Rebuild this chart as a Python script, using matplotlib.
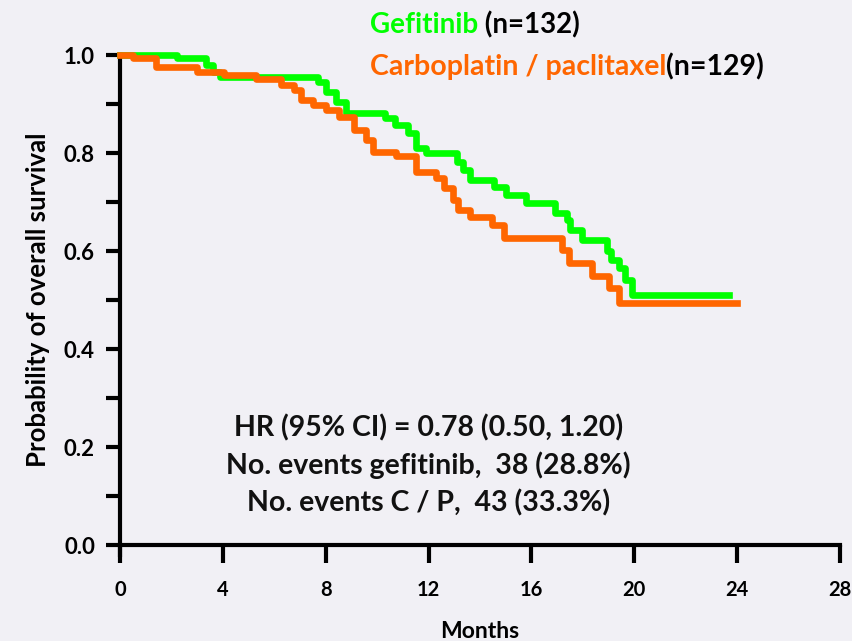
import matplotlib
matplotlib.use("Agg")
import matplotlib.pyplot as plt
from matplotlib.ticker import MultipleLocator

# ---- data ----
gef_t = [0, 2.2, 3.35, 3.6, 3.9, 7.7, 8.0, 8.4, 8.8, 10.3, 10.7, 11.2, 11.5, 11.9,
         13.1, 13.35, 13.6, 14.55, 15.0, 15.8, 16.9, 17.4, 17.5, 17.95, 18.95,
         19.1, 19.4, 19.65, 19.9, 23.7]
gef_s = [1.0, 0.993, 0.980, 0.966, 0.956, 0.945, 0.925, 0.905, 0.882, 0.871, 0.857,
         0.841, 0.810, 0.800, 0.782, 0.765, 0.745, 0.731, 0.714, 0.697, 0.678, 0.663,
         0.643, 0.622, 0.599, 0.582, 0.565, 0.541, 0.510, 0.510]

cp_t = [0, 0.5, 1.4, 3.0, 4.05, 5.3, 6.25, 6.75, 7.05, 7.5, 8.0, 8.5, 9.1, 9.55,
        9.85, 10.75, 11.5, 12.3, 12.6, 12.95, 13.15, 13.6, 14.45, 14.95, 17.2,
        17.45, 18.35, 19.0, 19.4, 24.0]
cp_s = [1.0, 0.993, 0.976, 0.966, 0.959, 0.952, 0.939, 0.929, 0.908, 0.898, 0.888,
        0.874, 0.847, 0.827, 0.803, 0.793, 0.762, 0.748, 0.728, 0.704, 0.684, 0.670,
        0.653, 0.626, 0.602, 0.575, 0.548, 0.524, 0.493, 0.493]

x_ticks = [0, 4, 8, 12, 16, 20, 24, 28]
y_ticks = [0.0, 0.2, 0.4, 0.6, 0.8, 1.0]

GREEN = "#00ff00"
ORANGE = "#ff6600"
BG = "#f1f0f5"

plt.rcParams["font.family"] = ["Lato", "DejaVu Sans"]
plt.rcParams["font.weight"] = "bold"

fig = plt.figure(figsize=(8.52, 6.41), dpi=100, facecolor=BG)
ax = fig.add_axes([120 / 852, 96 / 641, 720 / 852, 490 / 641])
ax.set_facecolor(BG)

ax.step(cp_t, cp_s, where="post", color=ORANGE, lw=4.8, clip_on=False, zorder=3)
ax.step(gef_t, gef_s, where="post", color=GREEN, lw=4.8, clip_on=False, zorder=2)

ax.set_xlim(0, 28)
ax.set_ylim(0, 1.0)
for s in ["top", "right"]:
    ax.spines[s].set_visible(False)
for s in ["left", "bottom"]:
    ax.spines[s].set_linewidth(3)
ax.spines["left"].set_bounds(-0.02, 1.0)

ax.set_xticks(x_ticks)
ax.set_yticks(y_ticks)
ax.set_yticklabels([f"{v:.1f}" for v in y_ticks])
ax.yaxis.set_minor_locator(MultipleLocator(0.1))
ax.tick_params(axis="x", length=13, width=3, pad=12, labelsize=14.5)
ax.tick_params(axis="y", which="both", length=10, width=3, pad=8, labelsize=16)

ax.set_xlabel("Months", fontsize=16.5, fontweight="bold", labelpad=15)
ax.set_ylabel("Probability of overall survival", fontsize=18.5,
              fontweight="bold", labelpad=10)

# ---- legend-ish header ----
t1 = fig.text(370 / 852, 1 - 25 / 641, "Gefitinib", color=GREEN, fontsize=20,
              fontweight="bold", va="center")
ax.annotate(" (n=132)", xy=(1, 0), xycoords=t1, va="bottom", ha="left",
            fontsize=20, fontweight="bold", color="black")
t2 = fig.text(370 / 852, 1 - 67 / 641, "Carboplatin / paclitaxel", color=ORANGE,
              fontsize=20.5, fontweight="bold", va="center")
ax.annotate("(n=129)", xy=(1, 0), xycoords=t2, va="bottom", ha="left",
            fontsize=20.5, fontweight="bold", color="black")

# ---- stats text ----
stats = ["HR (95% CI) = 0.78 (0.50, 1.20)",
         "No. events gefitinib,  38 (28.8%)",
         "No. events C / P,  43 (33.3%)"]
for i, line in enumerate(stats):
    ax.text(12.0, 0.239 - i * 0.077, line, ha="center", va="center",
            fontsize=20.5, fontweight="bold", color="#111111")

fig.savefig("out.png", dpi=100, facecolor=BG)
